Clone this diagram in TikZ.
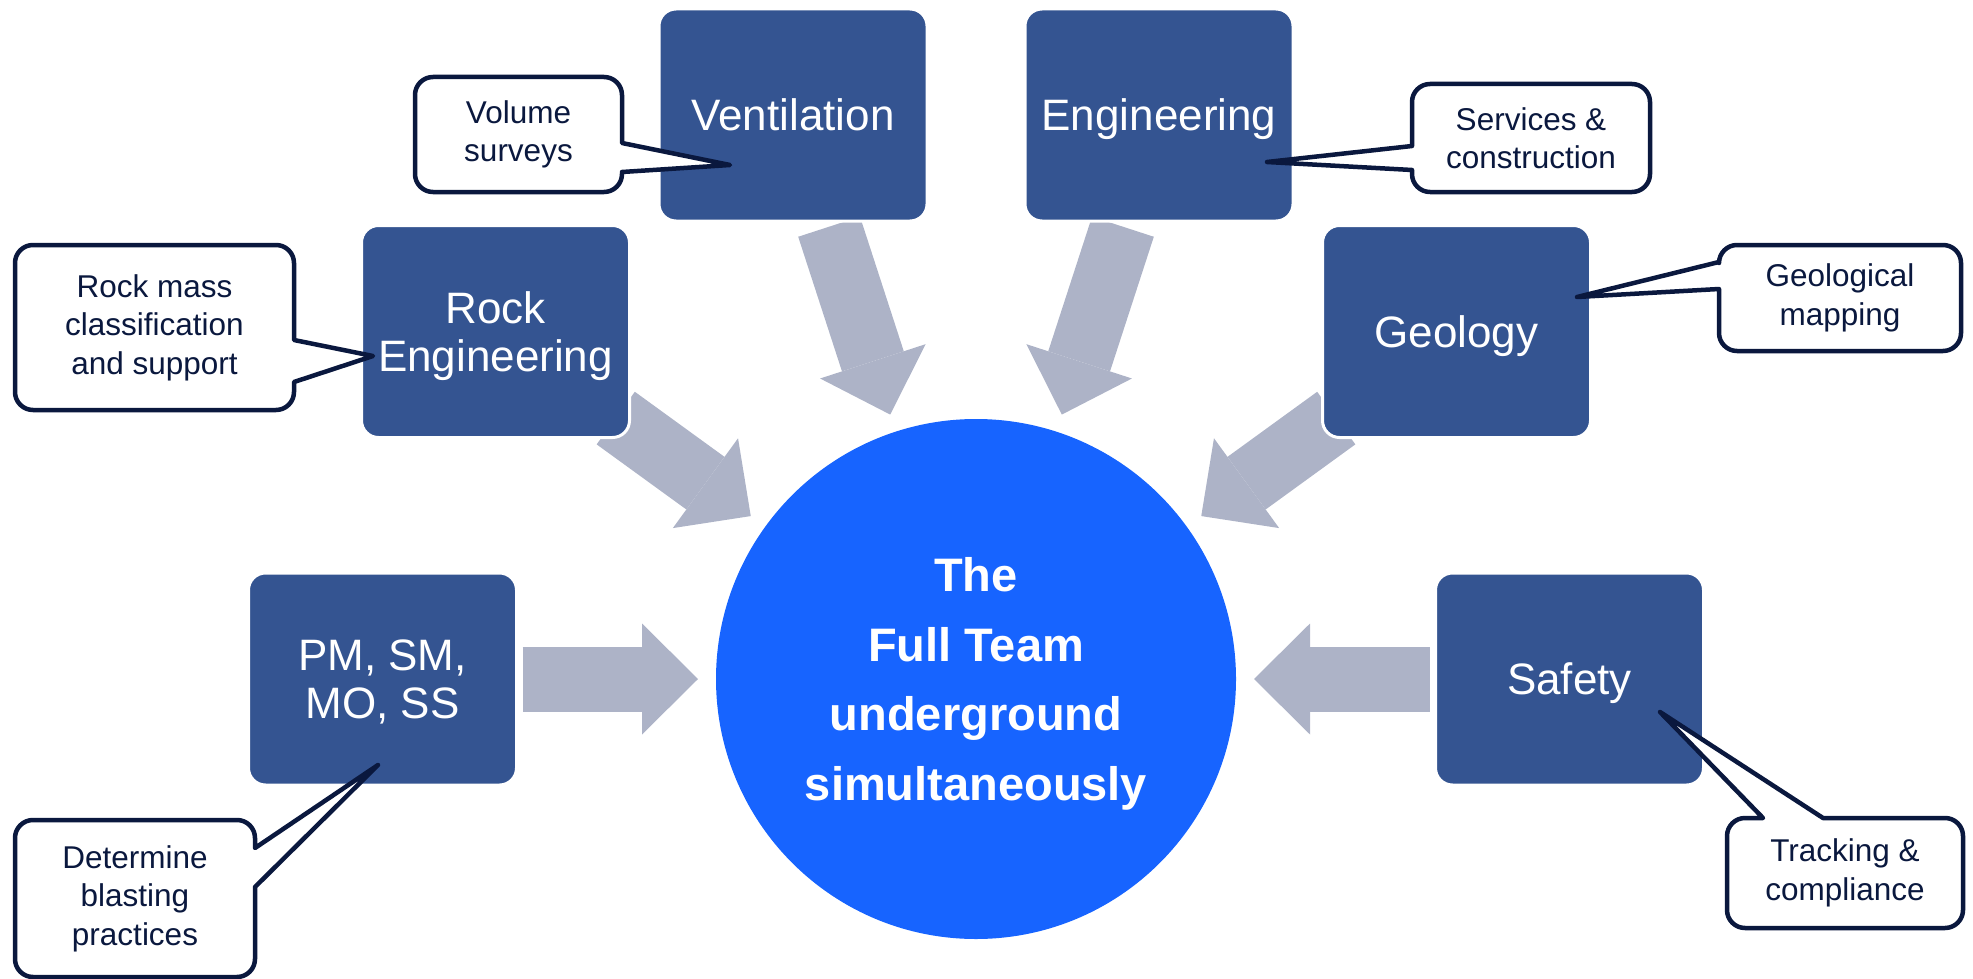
\documentclass[tikz,border=0pt]{standalone}
\usepackage{fontspec}
\setmainfont{Liberation Sans}
\usetikzlibrary{positioning,arrows.meta,backgrounds}

\definecolor{unitblue}{RGB}{52,84,145}
\definecolor{flowgrey}{RGB}{173,179,199}
\definecolor{teamblue}{RGB}{23,100,255}
\definecolor{notenavy}{RGB}{10,24,62}

\tikzset{
  unit/.style={rectangle, rounded corners=17pt, fill=unitblue, draw=white, line width=3pt,
    minimum width=268pt, minimum height=212pt, inner sep=0pt, outer sep=0pt, text depth=0pt,
    text=white, align=center, font=\fontsize{44}{48}\selectfont},
  team/.style={circle, fill=teamblue, minimum size=520pt, inner sep=0pt, outer sep=0pt, text depth=0pt,
    text=white, align=center, font=\fontsize{47}{69.5}\selectfont\bfseries},
  flow/.style={color=flowgrey, line width=65pt,
    -{Triangle[length=56pt, width=111pt, line width=0pt]}, shorten >=18pt, shorten <=6pt},
  note/.style={rectangle, rounded corners=18pt, fill=white, inner sep=0pt, outer sep=0pt,
    text=notenavy, align=center, font=\fontsize{31.5}{38.5}\selectfont},
  noteline/.style={draw=notenavy, line width=4.5pt, line join=round}
}

\begin{document}
\begin{tikzpicture}[x=1pt, y=-1pt, on grid]
  \useasboundingbox (0,0) rectangle (1973,979);

  \node[team] (team) at (976,679) {The\\Full Team\\underground\\simultaneously};

  \node[unit, above left=564pt and 183pt of team] (vent) {Ventilation};
  \node[unit, above right=564pt and 183pt of team] (eng) {Engineering};
  \node[unit, above left=347.5pt and 480.5pt of team] (rock) {Rock\\Engineering};
  \node[unit, above right=347.5pt and 480.5pt of team] (geo) {Geology};
  \node[unit, left=593.5pt of team] (pm) {PM, SM,\\MO, SS};
  \node[unit, right=593.5pt of team] (safety) {Safety};

  % grey flows into the team
  \begin{scope}[on background layer]
    \draw[flow] (vent) -- (team);
    \draw[flow] (eng) -- (team);
    \draw[flow, shorten <=-17pt] (rock) -- (team);
    \draw[flow, shorten <=-17pt] (geo) -- (team);
    \draw[flow] (pm) -- (team);
    \draw[flow] (safety) -- (team);
  \end{scope}

  % callouts
  \node[note, minimum width=207pt, minimum height=115pt] (volnote) at (518.5,134.5) {Volume\\surveys};
  \coordinate (voltip) at (730,165);
  \fill[white] ([yshift=-8.5pt]volnote.east) -- (voltip) -- ([yshift=-37.5pt]volnote.east) -- cycle;
  \draw[noteline] ([yshift=-8.5pt]volnote.east) -- (voltip) -- ([yshift=-37.5pt]volnote.east)
    [rounded corners=18pt] -- (volnote.south east) -- (volnote.south west) -- (volnote.north west) -- (volnote.north east)
    [sharp corners] -- cycle;

  \node[note, minimum width=279pt, minimum height=165pt] (rocknote) at (154.5,327.5) {Rock mass\\classification\\and support};
  \coordinate (rocktip) at (373,356);
  \fill[white] ([yshift=-12.5pt]rocknote.east) -- (rocktip) -- ([yshift=-54.5pt]rocknote.east) -- cycle;
  \draw[noteline] ([yshift=-12.5pt]rocknote.east) -- (rocktip) -- ([yshift=-54.5pt]rocknote.east)
    [rounded corners=18pt] -- (rocknote.south east) -- (rocknote.south west) -- (rocknote.north west) -- (rocknote.north east)
    [sharp corners] -- cycle;

  \node[note, minimum width=238pt, minimum height=108pt] (servnote) at (1531,138) {Services \&\\construction};
  \coordinate (servtip) at (1267,162);
  \fill[white] ([yshift=-8pt]servnote.west) -- (servtip) -- ([yshift=-32pt]servnote.west) -- cycle;
  \draw[noteline] ([yshift=-8pt]servnote.west) -- (servtip) -- ([yshift=-32pt]servnote.west)
    [rounded corners=18pt] -- (servnote.south west) -- (servnote.south east) -- (servnote.north east) -- (servnote.north west)
    [sharp corners] -- cycle;

  \node[note, minimum width=242pt, minimum height=106pt] (geonote) at (1840,298) {Geological\\mapping};
  \coordinate (geotip) at (1577,297);
  \fill[white] ([yshift=36pt]geonote.west) -- (geotip) -- ([yshift=9pt]geonote.west) -- cycle;
  \draw[noteline] ([yshift=36pt]geonote.west) -- (geotip) -- ([yshift=9pt]geonote.west)
    [rounded corners=18pt] -- (geonote.south west) -- (geonote.south east) -- (geonote.north east) -- (geonote.north west)
    [sharp corners] -- cycle;

  \node[note, minimum width=240pt, minimum height=157pt] (blastnote) at (135,898.5) {Determine\\blasting\\practices};
  \coordinate (blasttip) at (378,765);
  \fill[white] ([yshift=50.5pt]blastnote.east) -- (blasttip) -- ([yshift=11.5pt]blastnote.east) -- cycle;
  \draw[noteline] ([yshift=50.5pt]blastnote.east) -- (blasttip) -- ([yshift=11.5pt]blastnote.east)
    [rounded corners=18pt] -- (blastnote.south east) -- (blastnote.south west) -- (blastnote.north west) -- (blastnote.north east)
    [sharp corners] -- cycle;

  \node[note, minimum width=236pt, minimum height=110pt] (tracknote) at (1845,873) {Tracking \&\\compliance};
  \coordinate (tracktip) at (1660,712);
  \fill[white] ([xshift=-82pt]tracknote.north) -- (tracktip) -- ([xshift=-22pt]tracknote.north) -- cycle;
  \draw[noteline] ([xshift=-82pt]tracknote.north) -- (tracktip) -- ([xshift=-22pt]tracknote.north)
    [rounded corners=18pt] -- (tracknote.north east) -- (tracknote.south east) -- (tracknote.south west) -- (tracknote.north west)
    [sharp corners] -- cycle;
\end{tikzpicture}
\end{document}
